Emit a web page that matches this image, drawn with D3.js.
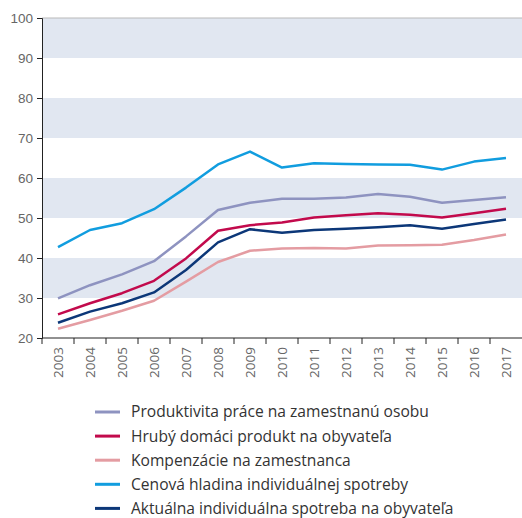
<!DOCTYPE html>
<html>
<head>
<meta charset="utf-8">
<script src="https://cdn.jsdelivr.net/npm/d3@7"></script>
<style>
  body { margin: 0; background: #fff; }
  svg { display: block; font-family: "Open Sans", "Noto Sans", sans-serif; }
</style>
</head>
<body>
<div id="chart"></div>
<script>
const years = ["2003","2004","2005","2006","2007","2008","2009","2010","2011","2012","2013","2014","2015","2016","2017"];
const yTicks = [20, 30, 40, 50, 60, 70, 80, 90, 100];

const produktivita = [29.9, 33.2, 35.9, 39.2, 45.4, 52.0, 53.8, 54.8, 54.8, 55.1, 56.0, 55.3, 53.8, 54.5, 55.2];
const hdp = [25.9, 28.7, 31.2, 34.3, 39.9, 46.8, 48.2, 48.9, 50.1, 50.7, 51.2, 50.8, 50.1, 51.2, 52.3];
const kompenzacie = [22.3, 24.5, 26.8, 29.3, 34.1, 39.0, 41.8, 42.4, 42.5, 42.4, 43.1, 43.2, 43.3, 44.5, 45.9];
const cenova = [42.7, 47.0, 48.7, 52.2, 57.6, 63.4, 66.6, 62.6, 63.7, 63.5, 63.4, 63.3, 62.1, 64.1, 65.0];
const aktualna = [23.8, 26.6, 28.7, 31.4, 37.0, 43.9, 47.2, 46.3, 47.0, 47.3, 47.7, 48.2, 47.3, 48.5, 49.6];

const series = [
  { name: "Produktivita práce na zamestnanú osobu", values: produktivita, color: "#8e93c0" },
  { name: "Hrubý domáci produkt na obyvateľa", values: hdp, color: "#c20a4c" },
  { name: "Kompenzácie na zamestnanca", values: kompenzacie, color: "#e49ca2" },
  { name: "Cenová hladina individuálnej spotreby", values: cenova, color: "#119ddf" },
  { name: "Aktuálna individuálna spotreba na obyvateľa", values: aktualna, color: "#0c3778" }
];

const width = 522, height = 518;
const margin = { top: 18, right: 0, bottom: 180, left: 42 };
const innerW = width - margin.left - margin.right;
const innerH = height - margin.top - margin.bottom;

const svg = d3.select("#chart").append("svg")
  .attr("width", width)
  .attr("height", height);

const g = svg.append("g").attr("transform", `translate(${margin.left},${margin.top})`);

const x = d3.scaleBand().domain(years).range([0, innerW]);
const y = d3.scaleLinear().domain([20, 100]).range([innerH, 0]);

// bands: shaded every other 10-unit interval
const bands = [[30, 40], [50, 60], [70, 80], [90, 100]];
g.selectAll("rect.band")
  .data(bands)
  .enter().append("rect")
  .attr("x", 0)
  .attr("width", innerW)
  .attr("y", d => y(d[1]))
  .attr("height", d => y(d[0]) - y(d[1]))
  .attr("fill", "#e1e7f1");

// top border
g.append("line")
  .attr("x1", 0).attr("x2", innerW)
  .attr("y1", 0).attr("y2", 0)
  .attr("stroke", "#b9b9b9").attr("stroke-width", 1);

// y axis
const yAxis = g.append("g")
  .call(d3.axisLeft(y).tickValues(yTicks).tickSize(5).tickPadding(4));
yAxis.select(".domain").attr("stroke", "#222");
yAxis.selectAll(".tick line").attr("stroke", "#222");
yAxis.selectAll("text").attr("fill", "#666").style("font-size", "13.5px");

// lines
const line = d3.line()
  .x((d, i) => x(years[i]) + x.bandwidth() / 2)
  .y(d => y(d));

g.selectAll("path.series")
  .data(series)
  .enter().append("path")
  .attr("class", "series")
  .attr("fill", "none")
  .attr("stroke", d => d.color)
  .attr("stroke-width", 2.5)
  .attr("stroke-linejoin", "round")
  .attr("d", d => line(d.values));

// x axis with ticks at band boundaries
const xAxis = g.append("g").attr("transform", `translate(0,${innerH})`);
xAxis.append("line")
  .attr("x1", 0).attr("x2", innerW)
  .attr("stroke", "#222");
xAxis.selectAll("line.tick")
  .data(years)
  .enter().append("line")
  .attr("x1", d => x(d)).attr("x2", d => x(d))
  .attr("y1", 0).attr("y2", 6)
  .attr("stroke", "#222");
xAxis.selectAll("text")
  .data(years)
  .enter().append("text")
  .attr("transform", d => `translate(${x(d) + x.bandwidth() / 2 + 5},9) rotate(-90)`)
  .attr("text-anchor", "end")
  .attr("fill", "#666")
  .style("font-size", "13.5px")
  .text(d => d);

// legend
const legend = svg.append("g").attr("transform", "translate(95,412)");
const item = legend.selectAll("g")
  .data(series)
  .enter().append("g")
  .attr("transform", (d, i) => `translate(0,${i * 24.1})`);
item.append("line")
  .attr("x1", 0).attr("x2", 25)
  .attr("stroke", d => d.color)
  .attr("stroke-width", 3);
item.append("text")
  .attr("x", 36)
  .attr("dy", "0.35em")
  .attr("fill", "#333")
  .style("font-size", "15.6px")
  .text(d => d.name);
</script>
</body>
</html>
